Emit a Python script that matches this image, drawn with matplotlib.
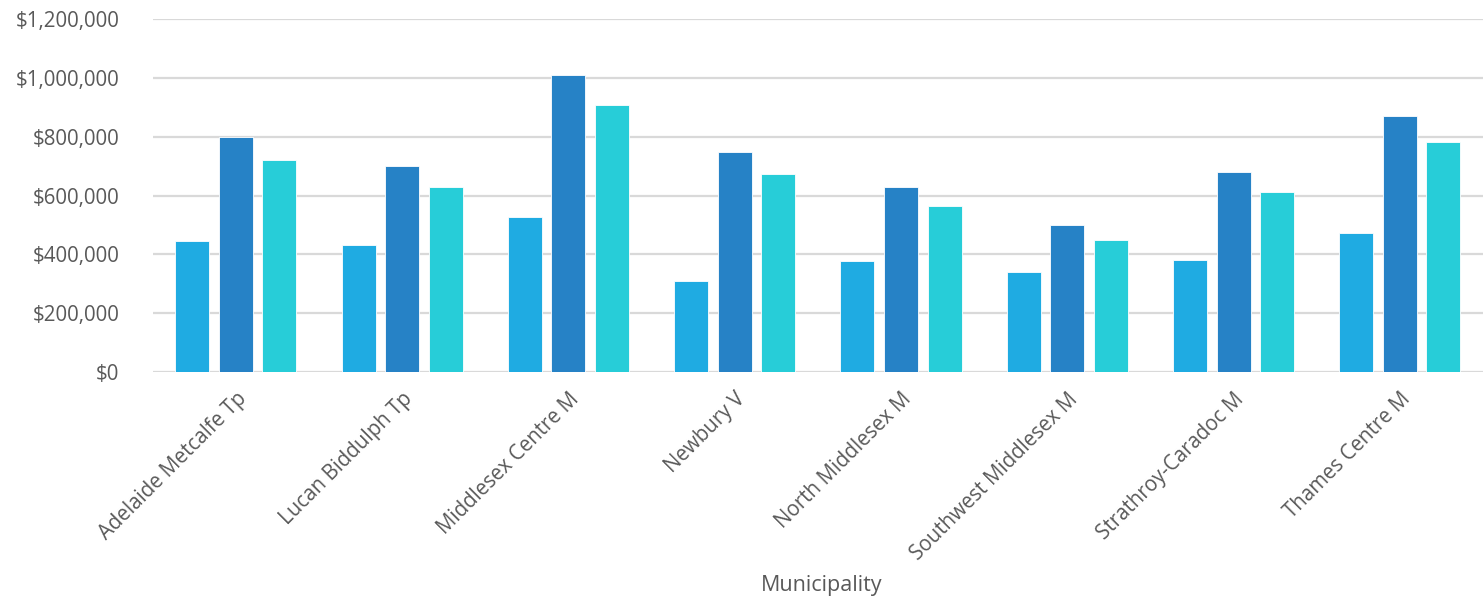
import numpy as np
import matplotlib.pyplot as plt
from matplotlib.ticker import FuncFormatter

municipalities = [
    "Adelaide Metcalfe Tp", "Lucan Biddulph Tp", "Middlesex Centre M",
    "Newbury V", "North Middlesex M", "Southwest Middlesex M",
    "Strathroy-Caradoc M", "Thames Centre M",
]
series_1 = [445000, 432000, 528000, 310000, 376000, 341000, 381000, 472000]
series_2 = [800000, 700000, 1010000, 750000, 630000, 500000, 680000, 871000]
series_3 = [720000, 630000, 908000, 673000, 566000, 449000, 612000, 782000]
colors = ["#1FABE2", "#2682C6", "#27CDD8"]

plt.rcParams["font.family"] = ["Open Sans", "DejaVu Sans"]
text_color = "#595959"

fig = plt.figure(figsize=(14.83, 6.0), dpi=100)
ax = fig.add_axes([0.103, 0.38, 0.897, 0.588])

x = np.arange(len(municipalities))
step = 0.262
width = 0.205
for i, (vals, c) in enumerate(zip([series_1, series_2, series_3], colors)):
    ax.bar(x + (i - 1) * step, vals, width, color=c, edgecolor="white",
           linewidth=0.6, zorder=3)

ax.set_xlim(-0.5, len(municipalities) - 0.5)
ax.set_ylim(0, 1200000)
ax.set_yticks(np.arange(0, 1200001, 200000))
ax.yaxis.set_major_formatter(FuncFormatter(lambda v, _: f"${v:,.0f}"))
ax.grid(axis="y", color="#D9D9D9", linewidth=1.6, zorder=0)
for s in ax.spines.values():
    s.set_visible(False)
ax.tick_params(axis="both", length=0, colors=text_color, labelsize=14.8)
ax.tick_params(axis="y", pad=24)

ax.set_xticks(x)
ax.set_xticklabels(municipalities, rotation=45, ha="right",
                   rotation_mode="anchor")
ax.tick_params(axis="x", pad=12)
ax.set_xlabel("Municipality", fontsize=15.5, color=text_color, va="center")
ax.xaxis.set_label_coords(0.503, -0.606)

fig.savefig("out.png", dpi=100)
